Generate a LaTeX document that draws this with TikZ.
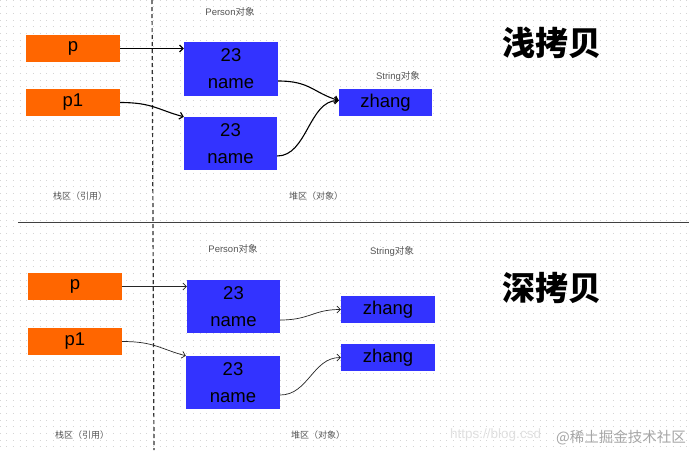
\documentclass[tikz,border=0pt]{standalone}
\usepackage{fontspec}
\setmainfont{Liberation Sans}
\newfontfamily\cjk{Noto Sans CJK SC}
\usetikzlibrary{arrows.meta}
\definecolor{refor}{RGB}{255,102,0}
\definecolor{refbl}{RGB}{51,51,255}
\definecolor{lblgray}{RGB}{85,85,85}
\definecolor{dotgray}{RGB}{212,212,212}
\begin{document}
\begin{tikzpicture}[x=1pt,y=-1pt,
  refbox/.style={draw=none,inner sep=0pt,minimum width=94pt,minimum height=27pt,
    font=\fontsize{18.5}{27}\selectfont,text=black},
  orbox/.style={refbox,fill=refor},
  blbox/.style={refbox,fill=refbl},
  objbox/.style={blbox,minimum height=53pt,align=center},
  smalllbl/.style={font=\fontsize{9.5}{11}\selectfont,text=lblgray,inner sep=0pt},
  titlelbl/.style={font=\cjk\bfseries\fontsize{33}{36}\selectfont,text=black,inner sep=0pt},
  arrtop/.style={draw=black,line width=1.1pt,-{Straight Barb[length=3.5pt,width=7pt]}},
  arrbot/.style={draw=black!85,line width=0.7pt,-{Straight Barb[length=3.5pt,width=7pt]}},
  dotrow/.style={draw=dotgray,line width=1pt,dash pattern=on 1pt off 5.667pt}
]
\useasboundingbox (0,0) rectangle (690,450);
\fill[white] (0,0) rectangle (690,450);
% dotted grid
\foreach \k in {0,...,67}{
  \draw[dotrow] (-0.5,\k*20/3) -- (690,\k*20/3);
}
% separators
\draw[black!80,line width=1.2pt,dash pattern=on 4pt off 3pt] (152,0) -- (154,450);
\draw[black!75,line width=1pt] (18,222) -- (689,222);

% ---------- shallow copy ----------
\node[orbox] (p) at (73,48.5) {p};
\node[orbox] (pa) at (73,102.5) {p1};
\node[objbox,minimum width=94pt,minimum height=54pt] (per1) at (231,69) {23\\name};
\node[objbox,minimum width=93pt] (per2) at (230.5,143.5) {23\\name};
\node[blbox,minimum width=93pt] (str) at (385.5,102.5) {zhang};

\node[smalllbl] (lper1) at (230,12) {Person{\cjk 对象}};
\node[smalllbl] (lstr1) at (398,76) {String{\cjk 对象}};
\node[smalllbl,font=\cjk\fontsize{9}{11}\selectfont] (lstack1) at (80,196) {栈区（引用）};
\node[smalllbl,font=\cjk\fontsize{9}{11}\selectfont] (lheap1) at (316,196) {堆区（对象）};
\node[titlelbl] (t1) at (552,43) {浅拷贝};

\draw[arrtop] (p.east) -- (p.east -| per1.west);
\draw[arrtop] (pa.east) .. controls +(32,0) and +(-26,-7) .. (per2.north west);
\draw[arrtop] ([yshift=-12pt]per1.east) .. controls +(32,0) and +(-26,-8) .. ([yshift=2pt]str.west);
\draw[arrtop] ([yshift=-12.5pt]per2.east) .. controls +(30,0) and +(-30,0) .. ([yshift=2pt]str.west);

% ---------- deep copy ----------
\node[orbox] (pb) at (75,286.5) {p};
\node[orbox] (pbb) at (75,341.5) {p1};
\node[objbox,minimum width=93pt] (per3) at (233.5,306.5) {23\\name};
\node[objbox,minimum width=94pt] (per4) at (233,382.5) {23\\name};
\node[blbox] (str2) at (388,309.5) {zhang};
\node[blbox] (str3) at (388,357.5) {zhang};

\node[smalllbl] (lper2) at (233,249) {Person{\cjk 对象}};
\node[smalllbl] (lstr2) at (392,251) {String{\cjk 对象}};
\node[smalllbl,font=\cjk\fontsize{9}{11}\selectfont] (lstack2) at (82,435) {栈区（引用）};
\node[smalllbl,font=\cjk\fontsize{9}{11}\selectfont] (lheap2) at (318,435) {堆区（对象）};
\node[titlelbl] (t2) at (552,288) {深拷贝};

\draw[arrbot] (pb.east) -- (pb.east -| per3.west);
\draw[arrbot] (pbb.east) .. controls +(32,0) and +(-26,-7) .. (per4.north west);
\draw[arrbot] ([yshift=-13.5pt]per3.east) .. controls +(30,0) and +(-28,0) .. (str2.west);
\draw[arrbot] ([yshift=-12.5pt]per4.east) .. controls +(28,0) and +(-28,0) .. (str3.west);

% watermark
\node[inner sep=0pt,anchor=west,text=black!12,font=\fontsize{13.5}{16}\selectfont] (wm1) at (450,435) {https://blog.csd};
\node[inner sep=0pt,anchor=east,text=black!35,font=\cjk\fontsize{14.5}{16}\selectfont] (wm2) at (686,438) {@稀土掘金技术社区};
\end{tikzpicture}
\end{document}
